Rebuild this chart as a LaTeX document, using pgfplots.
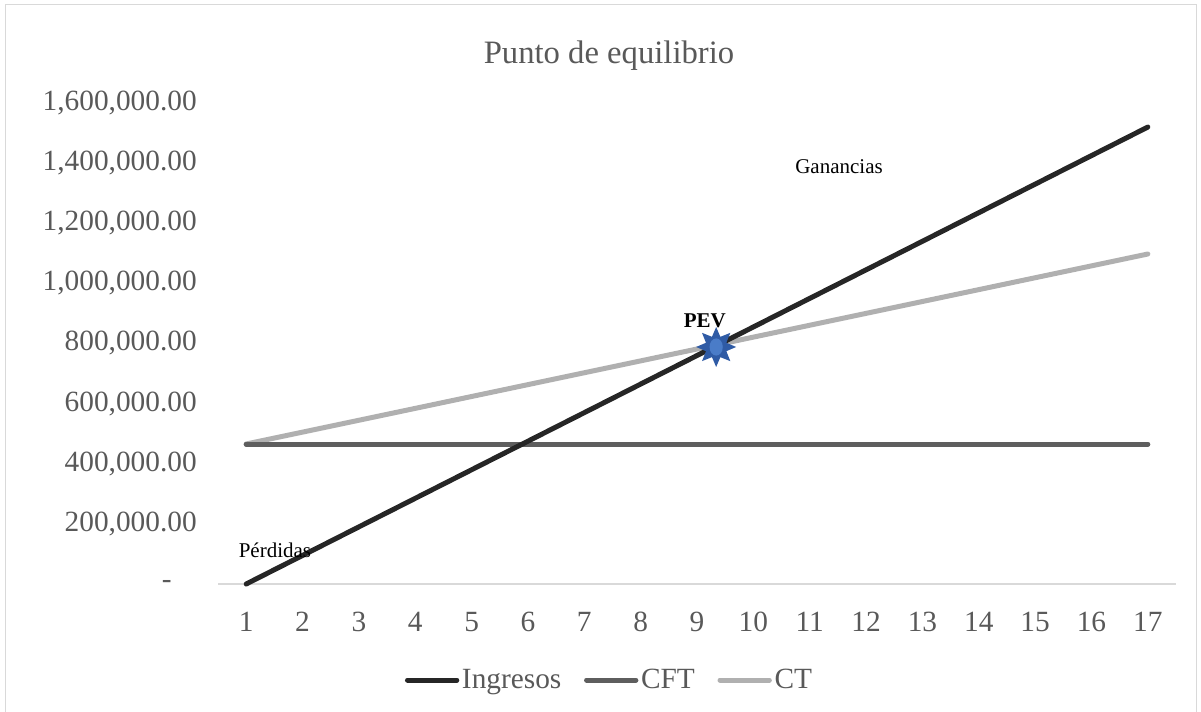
\documentclass[border=0pt]{standalone}
\usepackage{fontspec}
\setmainfont{Liberation Serif}
\usepackage{pgfplots}
\pgfplotsset{compat=1.18}
\definecolor{ing}{HTML}{262626}
\definecolor{cft}{HTML}{5E5E5E}
\definecolor{ctc}{HTML}{B0B0B0}
\definecolor{txt}{HTML}{595959}
\definecolor{gridc}{HTML}{D9D9D9}
\definecolor{stard}{HTML}{2F5BA5}
\definecolor{starl}{HTML}{4A7CC8}
\pgfdeclareplotmark{pevstar}{%
  \pgfsetfillcolor{stard}%
  \pgfpathmoveto{\pgfpointpolar{90}{\pgfplotmarksize}}%
  \pgfpathlineto{\pgfpointpolar{112.5}{0.55\pgfplotmarksize}}%
  \pgfpathlineto{\pgfpointpolar{135}{\pgfplotmarksize}}%
  \pgfpathlineto{\pgfpointpolar{157.5}{0.55\pgfplotmarksize}}%
  \pgfpathlineto{\pgfpointpolar{180}{\pgfplotmarksize}}%
  \pgfpathlineto{\pgfpointpolar{202.5}{0.55\pgfplotmarksize}}%
  \pgfpathlineto{\pgfpointpolar{225}{\pgfplotmarksize}}%
  \pgfpathlineto{\pgfpointpolar{247.5}{0.55\pgfplotmarksize}}%
  \pgfpathlineto{\pgfpointpolar{270}{\pgfplotmarksize}}%
  \pgfpathlineto{\pgfpointpolar{292.5}{0.55\pgfplotmarksize}}%
  \pgfpathlineto{\pgfpointpolar{315}{\pgfplotmarksize}}%
  \pgfpathlineto{\pgfpointpolar{337.5}{0.55\pgfplotmarksize}}%
  \pgfpathlineto{\pgfpointpolar{0}{\pgfplotmarksize}}%
  \pgfpathlineto{\pgfpointpolar{22.5}{0.55\pgfplotmarksize}}%
  \pgfpathlineto{\pgfpointpolar{45}{\pgfplotmarksize}}%
  \pgfpathlineto{\pgfpointpolar{67.5}{0.55\pgfplotmarksize}}%
  \pgfpathclose
  \pgfusepathqfill
  \pgfsetfillcolor{starl}%
  \pgfpathellipse{\pgfpointorigin}{\pgfpoint{0.33\pgfplotmarksize}{0pt}}{\pgfpoint{0pt}{0.43\pgfplotmarksize}}%
  \pgfusepathqfill
}
\begin{document}
\begin{tikzpicture}
\path[use as bounding box] (0,0) rectangle (900.75pt,533.25pt);
\draw[gridc, line width=0.75pt] (3.75pt,-2pt) -- (3.75pt,529.5pt) -- (897pt,529.5pt) -- (897pt,-2pt);
\node[txt, font=\fontsize{24.5}{29}\selectfont] at (456.75pt,491.25pt) {Punto de equilibrio};
\begin{axis}[
  at={(163.5pt,95.25pt)}, anchor=south west,
  scale only axis, width=718.5pt, height=360.75pt,
  xmin=0.5, xmax=17.5, ymin=0, ymax=1600000,
  xtick={1,...,17},
  ytick={0,200000,400000,600000,800000,1000000,1200000,1400000,1600000},
  yticklabels={{-\hspace*{18.75pt}},{200,000.00},{400,000.00},{600,000.00},{800,000.00},{1,000,000.00},{1,200,000.00},{1,400,000.00},{1,600,000.00}},
  scaled y ticks=false,
  axis x line*=bottom, axis y line*=left,
  x axis line style={-, draw=gridc, line width=1pt},
  y axis line style={draw=none},
  major tick length=0pt, tick style={draw=none},
  tick label style={txt, font=\fontsize{22}{26}\selectfont, inner sep=0pt},
  xticklabel style={anchor=north}, yticklabel style={anchor=east},
  xticklabel shift=21pt, yticklabel shift=15.75pt,
  /pgf/number format/assume math mode=true,
  clip=false,
  legend style={at={(0.409,-0.1996)}, anchor=center, draw=none, fill=none,
    font=\fontsize{22}{26}\selectfont, text=txt,
    /tikz/every even column/.append style={column sep=15pt}},
  legend columns=3,
  legend image code/.code={\draw[#1, line cap=round] (0pt,0pt) -- (37pt,0pt);},
]
\addlegendimage{ing, line width=3.75pt}
\addlegendentry{Ingresos}
\addlegendimage{cft, line width=3.75pt}
\addlegendentry{CFT}
\addlegendimage{ctc, line width=3.75pt}
\addlegendentry{CT}
\addplot[ctc, line width=3.75pt, line cap=round, mark=none, forget plot] coordinates {
(1,465700)(2,505200)(3,544700)(4,584200)(5,623700)(6,663200)(7,702700)(8,742200)(9,781700)
(10,821200)(11,860700)(12,900200)(13,939700)(14,979200)(15,1018700)(16,1058200)(17,1097700)};
\addplot[cft, line width=3.75pt, line cap=round, mark=none, forget plot] coordinates {
(1,465700)(2,465700)(3,465700)(4,465700)(5,465700)(6,465700)(7,465700)(8,465700)(9,465700)
(10,465700)(11,465700)(12,465700)(13,465700)(14,465700)(15,465700)(16,465700)(17,465700)};
\addplot[ing, line width=3.75pt, line cap=round, mark=none, forget plot] coordinates {
(1,0)(2,95000)(3,190000)(4,285000)(5,380000)(6,475000)(7,570000)(8,665000)(9,760000)
(10,855000)(11,950000)(12,1045000)(13,1140000)(14,1235000)(15,1330000)(16,1425000)(17,1520000)};
\addplot[only marks, mark=pevstar, mark size=15pt, forget plot] coordinates {(9.34,788400)};
\node[font=\fontsize{15.75}{19}\bfseries\selectfont] at (axis cs:9.14,875000) {PEV};
\node[font=\fontsize{15.75}{19}\selectfont] at (axis cs:11.52,1387000) {Ganancias};
\node[font=\fontsize{15.75}{19}\selectfont] at (axis cs:1.51,113000) {Pérdidas};
\end{axis}
\end{tikzpicture}
\end{document}
